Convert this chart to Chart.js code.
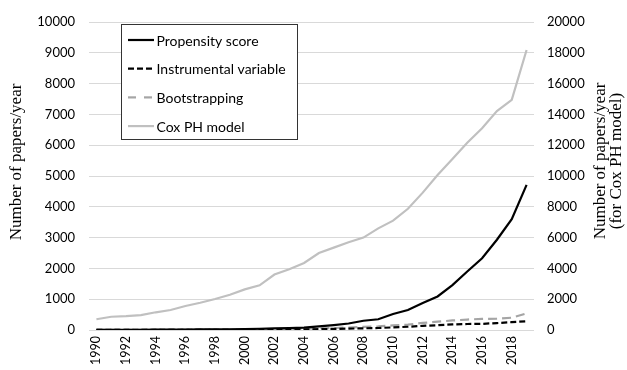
<!DOCTYPE html>
<html>
<head>
<meta charset="utf-8">
<script src="https://cdn.jsdelivr.net/npm/chart.js@4/dist/chart.umd.min.js"></script>
<style>
  html, body { margin: 0; padding: 0; background: #fff; }
  #chart { display: block; }
</style>
</head>
<body>
<canvas id="chart" width="627" height="370"></canvas>
<script>
// data
var years = ['1990', '1991', '1992', '1993', '1994', '1995', '1996', '1997', '1998', '1999',
             '2000', '2001', '2002', '2003', '2004', '2005', '2006', '2007', '2008', '2009',
             '2010', '2011', '2012', '2013', '2014', '2015', '2016', '2017', '2018', '2019'];
var propensityScore = [5, 5, 8, 8, 10, 12, 14, 18, 20, 25,
                       30, 40, 50, 60, 80, 120, 160, 210, 300, 350,
                       520, 650, 880, 1090, 1460, 1900, 2330, 2930, 3600, 4710];
var instrumentalVariable = [2, 2, 3, 3, 3, 4, 4, 5, 5, 6,
                            8, 10, 12, 15, 20, 28, 35, 45, 55, 65,
                            85, 105, 135, 155, 180, 195, 200, 225, 255, 285];
var bootstrapping = [3, 4, 5, 6, 7, 9, 10, 12, 14, 17,
                     20, 25, 30, 38, 45, 55, 65, 80, 100, 115,
                     150, 175, 230, 270, 310, 340, 360, 370, 400, 540];
var coxPH = [700, 860, 900, 970, 1150, 1300, 1560, 1770, 2010, 2290,
             2640, 2900, 3600, 3950, 4350, 5000, 5350, 5700, 6000, 6600,
             7100, 7870, 8920, 10060, 11100, 12160, 13100, 14220, 14940, 18180];

var leftTitle = ['Number of papers/year'];
var rightTitle = ['Number of papers/year', '(for Cox PH model)'];

var sansFont = 'Lato, "Liberation Sans", sans-serif';
var serifFont = '"Liberation Serif", "DejaVu Serif", serif';

// legend box drawn inside the plot, like the original
var boxLegend = {
    id: 'boxLegend',
    afterDraw: function (chart) {
        var ctx = chart.ctx;
        var x = 121.5, y = 24.5, w = 176, h = 115;
        ctx.save();
        ctx.fillStyle = '#fff';
        ctx.fillRect(x, y, w, h);
        ctx.strokeStyle = '#333';
        ctx.lineWidth = 1;
        ctx.strokeRect(x, y, w, h);
        ctx.font = '14px ' + sansFont;
        ctx.textBaseline = 'middle';
        ctx.textAlign = 'left';
        chart.data.datasets.forEach(function (ds, i) {
            var ry = 40 + i * 28.7;
            ctx.beginPath();
            ctx.setLineDash(ds.legendDash || []);
            ctx.strokeStyle = ds.borderColor;
            ctx.lineWidth = ds.borderWidth;
            ctx.moveTo(128, ry);
            ctx.lineTo(154, ry);
            ctx.stroke();
            ctx.setLineDash([]);
            ctx.fillStyle = '#000';
            ctx.fillText(ds.label, 156.5, ry + 1);
        });
        ctx.restore();
    }
};

// both axis titles read bottom-to-top
function drawVerticalTitle(ctx, lines, cx, cy, lineGap) {
    ctx.save();
    ctx.translate(cx, cy);
    ctx.rotate(-Math.PI / 2);
    ctx.font = '17px ' + serifFont;
    ctx.fillStyle = '#000';
    ctx.textAlign = 'center';
    ctx.textBaseline = 'middle';
    var start = -(lines.length - 1) * lineGap / 2;
    lines.forEach(function (t, i) {
        ctx.fillText(t, 0, start + i * lineGap);
    });
    ctx.restore();
}

var axisTitles = {
    id: 'axisTitles',
    afterDraw: function (chart) {
        drawVerticalTitle(chart.ctx, leftTitle, 17, 162, 16);
        drawVerticalTitle(chart.ctx, rightTitle, 609, 161, 16);
    }
};

function plainNumber(v) {
    return String(v);
}

var ctx = document.getElementById('chart').getContext('2d');
var chart = new Chart(ctx, {
    type: 'line',
    data: {
        labels: years,
        datasets: [
            {
                label: 'Propensity score',
                data: propensityScore,
                yAxisID: 'y',
                borderColor: '#000',
                borderWidth: 2.2,
                legendDash: []
            },
            {
                label: 'Instrumental variable',
                data: instrumentalVariable,
                yAxisID: 'y',
                borderColor: '#000',
                borderWidth: 2.2,
                borderDash: [6, 3],
                legendDash: [6, 3]
            },
            {
                label: 'Bootstrapping',
                data: bootstrapping,
                yAxisID: 'y',
                borderColor: '#a5a5a5',
                borderWidth: 2.2,
                borderDash: [9, 5],
                legendDash: [8, 8]
            },
            {
                label: 'Cox PH model',
                data: coxPH,
                yAxisID: 'y2',
                borderColor: '#c0c0c0',
                borderWidth: 2.2,
                legendDash: []
            }
        ]
    },
    options: {
        responsive: false,
        animation: false,
        devicePixelRatio: 1,
        layout: { padding: { top: 22, left: 0, right: 0, bottom: 0 } },
        elements: {
            point: { radius: 0 },
            line: { tension: 0, fill: false }
        },
        plugins: {
            legend: { display: false },
            tooltip: { enabled: false }
        },
        scales: {
            x: {
                offset: true,
                grid: { display: false, drawTicks: false },
                border: { display: false },
                afterFit: function (scale) { scale.height = 40; },
                ticks: {
                    autoSkip: false,
                    minRotation: 90,
                    maxRotation: 90,
                    padding: 6,
                    color: '#000',
                    font: { family: sansFont, size: 12.5 },
                    callback: function (val, i) {
                        return i % 2 === 0 ? years[i] : '';
                    }
                }
            },
            y: {
                position: 'left',
                min: 0,
                max: 10000,
                afterFit: function (scale) { scale.width = 89; },
                grid: { color: '#d9d9d9', lineWidth: 1, drawTicks: false },
                border: { display: false },
                ticks: {
                    stepSize: 1000,
                    padding: 14,
                    color: '#000',
                    font: { family: sansFont, size: 13 },
                    callback: plainNumber
                }
            },
            y2: {
                position: 'right',
                min: 0,
                max: 20000,
                afterFit: function (scale) { scale.width = 93; },
                grid: { display: false, drawTicks: false },
                border: { display: false },
                ticks: {
                    stepSize: 2000,
                    padding: 13,
                    color: '#000',
                    font: { family: sansFont, size: 13 },
                    callback: plainNumber
                }
            }
        }
    },
    plugins: [boxLegend, axisTitles]
});
</script>
</body>
</html>
